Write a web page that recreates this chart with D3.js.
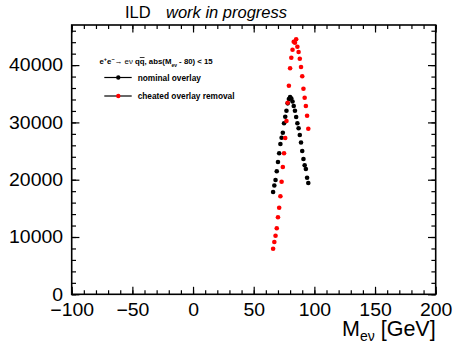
<!DOCTYPE html>
<html>
<head>
<meta charset="utf-8">
<script src="https://cdn.jsdelivr.net/npm/d3@7"></script>
<style>
  body { margin: 0; background: #fff; }
  text { font-family: "Liberation Sans", Arial, sans-serif; }
</style>
</head>
<body>
<svg id="chart" width="456" height="347"></svg>
<script>
// M_ev bin centres [GeV]
const massBins = [66, 67, 68, 69, 70, 71, 72, 73, 74, 75, 76, 77, 78, 79, 80,
  81, 82, 83, 84, 85, 86, 87, 88, 89, 90, 91, 92, 93, 94, 95]
// nominal overlay
const nominal = [17850, 18990, 19950, 21470, 23090, 24610, 26230, 27330, 28200, 29840,
  31000, 32040, 33330, 34080, 34430, 34170, 33650, 32860, 32040, 30940,
  29840, 28990, 27800, 26490, 25010, 23610, 22510, 21870, 20330, 19420]
// cheated overlay removal
const cheated = [7960, 9130, 10230, 11520, 13440, 15110, 17120, 19650, 22220, 24610,
  27280, 30240, 33440, 36400, 39440, 41290, 42690, 44080, 43900, 44500,
  43210, 42290, 41120, 39670, 38050, 35880, 34310, 32860, 31170, 28900]
const xTicks = [-100, -50, 0, 50, 100, 150, 200]
const yTicks = [0, 10000, 20000, 30000, 40000]

const frame = { left: 71.7, right: 435.7, top: 25, bottom: 294.3 }
const svg = d3.select('#chart')

const x = d3.scaleLinear().domain([-100, 200]).range([frame.left, frame.right])
const y = d3.scaleLinear().domain([0, 47000]).range([frame.bottom, frame.top])

// inward ticks on all four sides, ROOT style
const xMinor = d3.range(-100, 201, 10)
const yMinor = d3.range(0, 47000, 2000)

function tickAxis(axisFn, scale, values, size, transform) {
  const g = svg.append('g').attr('transform', transform)
    .call(axisFn(scale).tickValues(values).tickSizeInner(size).tickSizeOuter(0).tickFormat(''))
  g.select('.domain').remove()
  g.selectAll('line').attr('stroke', '#000').attr('stroke-width', 1.2)
  return g
}
tickAxis(d3.axisBottom, x, xMinor, -4, `translate(0,${frame.bottom})`)
tickAxis(d3.axisBottom, x, xTicks, -7.5, `translate(0,${frame.bottom})`)
tickAxis(d3.axisTop, x, xMinor, -4, `translate(0,${frame.top})`)
tickAxis(d3.axisTop, x, xTicks, -7.5, `translate(0,${frame.top})`)
tickAxis(d3.axisLeft, y, yMinor, -4.3, `translate(${frame.left},0)`)
tickAxis(d3.axisLeft, y, yTicks, -7.7, `translate(${frame.left},0)`)
tickAxis(d3.axisRight, y, yMinor, -4.3, `translate(${frame.right},0)`)
tickAxis(d3.axisRight, y, yTicks, -7.7, `translate(${frame.right},0)`)

// tick labels
const xAxisG = svg.append('g').attr('transform', `translate(0,${frame.bottom})`)
  .call(d3.axisBottom(x).tickValues(xTicks).tickSize(0).tickPadding(9))
xAxisG.select('.domain').remove()
xAxisG.selectAll('text').attr('font-size', 18).attr('fill', '#000')
  .attr('font-family', '"Liberation Sans", Arial, sans-serif')
  .text(d => d < 0 ? '\u2212' + Math.abs(d) : d)
  .attr('transform', 'scale(1.08,1)')

const yAxisG = svg.append('g').attr('transform', `translate(${frame.left},0)`)
  .call(d3.axisLeft(y).tickValues(yTicks).tickSize(0).tickPadding(8).tickFormat(d3.format('d')))
yAxisG.select('.domain').remove()
yAxisG.selectAll('text').attr('font-size', 18).attr('fill', '#000')
  .attr('font-family', '"Liberation Sans", Arial, sans-serif')
  .attr('transform', 'scale(1.08,1)')

// frame
svg.append('rect')
  .attr('x', frame.left).attr('y', frame.top)
  .attr('width', frame.right - frame.left).attr('height', frame.bottom - frame.top)
  .attr('fill', 'none').attr('stroke', '#000').attr('stroke-width', 1.6)

// points
const series = [
  { name: 'nominal overlay', values: nominal, color: '#000' },
  { name: 'cheated overlay removal', values: cheated, color: '#ff0000' },
]
series.forEach(s => {
  svg.append('g').selectAll('circle')
    .data(massBins.map((m, i) => [m, s.values[i]]))
    .join('circle')
    .attr('cx', d => x(d[0]))
    .attr('cy', d => y(d[1]))
    .attr('r', 2.3)
    .attr('fill', s.color)
})

// x axis title
const xTitle = svg.append('text')
  .attr('x', frame.right).attr('y', 336)
  .attr('text-anchor', 'end').attr('font-size', 21.5).attr('fill', '#000')
xTitle.append('tspan').text('M')
xTitle.append('tspan').attr('font-size', 14).attr('dy', 5).text('e\u03bd')
xTitle.append('tspan').attr('dy', -5).text(' [GeV]')

// title
svg.append('text').attr('x', 125).attr('y', 17.5).attr('font-size', 16.5).text('ILD')
svg.append('text').attr('x', 166).attr('y', 17.5).attr('font-size', 16.5)
  .attr('font-style', 'italic').text('work in progress')

// legend
const leg = svg.append('g').attr('font-weight', 'bold').attr('font-size', 8.3)
const head = leg.append('text').attr('x', 99.5).attr('y', 64).attr('font-size', 7.8)
head.append('tspan').text('e')
head.append('tspan').attr('font-size', 5.5).attr('dy', -3).text('+')
head.append('tspan').attr('dy', 3).text('e')
head.append('tspan').attr('font-size', 5.5).attr('dy', -3).text('\u2212')
head.append('tspan').attr('dy', 3).attr('font-weight', 'normal').text('\u2192 e\u03bd ')
head.append('tspan').text('q')
head.append('tspan').attr('text-decoration', 'overline').text('q')
head.append('tspan').text(', abs(M')
head.append('tspan').attr('font-size', 5).attr('dy', 2.5).text('e\u03bd')
head.append('tspan').attr('dy', -2.5).text(' - 80) < 15')

series.forEach((s, i) => {
  const ly = 77.5 + i * 18.5
  leg.append('line').attr('x1', 104.3).attr('x2', 131.7).attr('y1', ly).attr('y2', ly)
    .attr('stroke', '#000').attr('stroke-width', 1.2)
  leg.append('circle').attr('cx', 118.3).attr('cy', ly).attr('r', 2.2).attr('fill', s.color)
  leg.append('text').attr('x', 137.7).attr('y', ly + 3).text(s.name)
})
</script>
</body>
</html>
